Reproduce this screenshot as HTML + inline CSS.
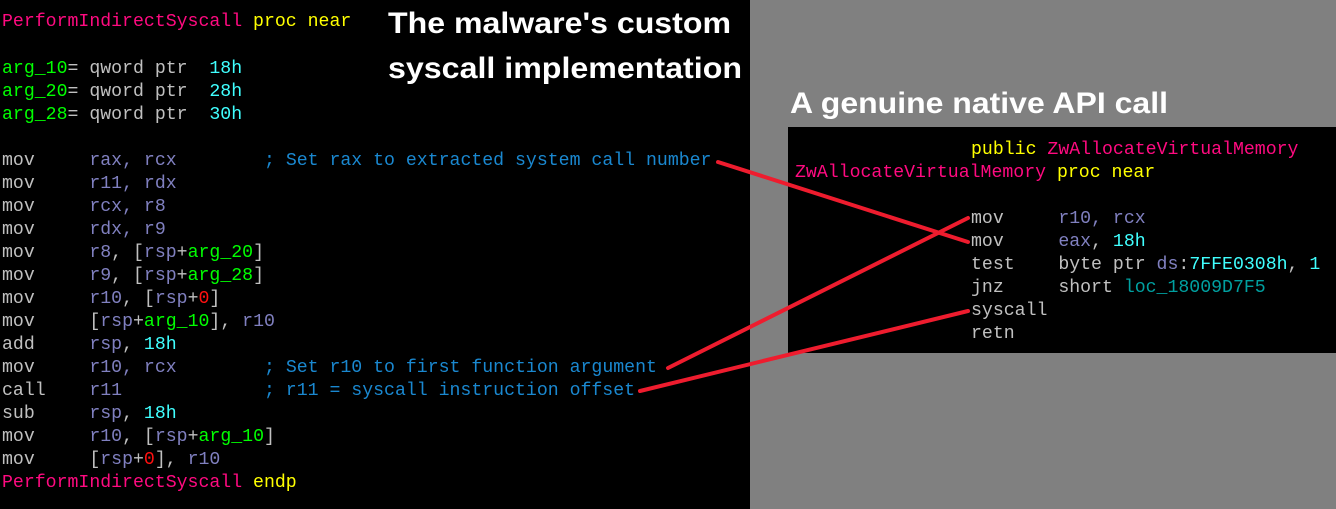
<!DOCTYPE html>
<html><head><meta charset="utf-8"><style>
html,body{margin:0;padding:0;}
body{width:1336px;height:509px;position:relative;overflow:hidden;background:#808080;}
#left{position:absolute;left:0;top:0;width:750px;height:509px;background:#000;}
#box{position:absolute;left:788px;top:127px;width:548px;height:226px;background:#000;}
.l{position:absolute;white-space:pre;font-family:"Liberation Mono",monospace;font-size:18.2px;line-height:23px;height:23px;color:#c0c0c0;margin-top:1px;}
.p{color:#ff0a80}.y{color:#ffff00}.g{color:#00ff00}.c{color:#40ffff}.r{color:#8080c0}.cm{color:#1a88d0}.z{color:#ff1010}.t{color:#00a0a0}
svg{position:absolute;left:0;top:0;}
</style></head><body>
<div id="left"></div>
<div id="box"></div>
<div class="l" style="left:2px;top:10px"><span class="p">PerformIndirectSyscall</span> <span class="y">proc near</span></div>
<div class="l" style="left:2px;top:57px"><span class="g">arg_10</span>= qword ptr  <span class="c">18h</span></div>
<div class="l" style="left:2px;top:80px"><span class="g">arg_20</span>= qword ptr  <span class="c">28h</span></div>
<div class="l" style="left:2px;top:103px"><span class="g">arg_28</span>= qword ptr  <span class="c">30h</span></div>
<div class="l" style="left:2px;top:149px">mov     <span class="r">rax, rcx</span>        <span class="cm">; Set rax to extracted system call number</span></div>
<div class="l" style="left:2px;top:172px">mov     <span class="r">r11, rdx</span></div>
<div class="l" style="left:2px;top:195px">mov     <span class="r">rcx, r8</span></div>
<div class="l" style="left:2px;top:218px">mov     <span class="r">rdx, r9</span></div>
<div class="l" style="left:2px;top:241px">mov     <span class="r">r8</span>, [<span class="r">rsp</span>+<span class="g">arg_20</span>]</div>
<div class="l" style="left:2px;top:264px">mov     <span class="r">r9</span>, [<span class="r">rsp</span>+<span class="g">arg_28</span>]</div>
<div class="l" style="left:2px;top:287px">mov     <span class="r">r10</span>, [<span class="r">rsp</span>+<span class="z">0</span>]</div>
<div class="l" style="left:2px;top:310px">mov     [<span class="r">rsp</span>+<span class="g">arg_10</span>], <span class="r">r10</span></div>
<div class="l" style="left:2px;top:333px">add     <span class="r">rsp</span>, <span class="c">18h</span></div>
<div class="l" style="left:2px;top:356px">mov     <span class="r">r10, rcx</span>        <span class="cm">; Set r10 to first function argument</span></div>
<div class="l" style="left:2px;top:379px">call    <span class="r">r11</span>             <span class="cm">; r11 = syscall instruction offset</span></div>
<div class="l" style="left:2px;top:402px">sub     <span class="r">rsp</span>, <span class="c">18h</span></div>
<div class="l" style="left:2px;top:425px">mov     <span class="r">r10</span>, [<span class="r">rsp</span>+<span class="g">arg_10</span>]</div>
<div class="l" style="left:2px;top:448px">mov     [<span class="r">rsp</span>+<span class="z">0</span>], <span class="r">r10</span></div>
<div class="l" style="left:2px;top:471px"><span class="p">PerformIndirectSyscall</span> <span class="y">endp</span></div>

<div class="l" style="left:971px;top:138px"><span class="y">public</span> <span class="p">ZwAllocateVirtualMemory</span></div>
<div class="l" style="left:795px;top:161px"><span class="p">ZwAllocateVirtualMemory</span> <span class="y">proc near</span></div>
<div class="l" style="left:971px;top:207px">mov     <span class="r">r10, rcx</span></div>
<div class="l" style="left:971px;top:230px">mov     <span class="r">eax</span>, <span class="c">18h</span></div>
<div class="l" style="left:971px;top:253px">test    byte ptr <span class="r">ds</span>:<span class="c">7FFE0308h</span>, <span class="c">1</span></div>
<div class="l" style="left:971px;top:276px">jnz     short <span class="t">loc_18009D7F5</span></div>
<div class="l" style="left:971px;top:299px">syscall</div>
<div class="l" style="left:971px;top:322px">retn</div>

<svg width="1336" height="509" xmlns="http://www.w3.org/2000/svg">
<g font-family="Liberation Sans, sans-serif" font-weight="bold" font-size="30" fill="#fff">
<text x="388" y="33" textLength="343" lengthAdjust="spacingAndGlyphs">The malware's custom</text>
<text x="388" y="78" textLength="354" lengthAdjust="spacingAndGlyphs">syscall implementation</text>
<text x="790" y="113" textLength="378" lengthAdjust="spacingAndGlyphs">A genuine native API call</text>
</g>
<g stroke="#ee1c2e" stroke-width="4" stroke-linecap="round">
<line x1="718" y1="162" x2="968" y2="242"/>
<line x1="668" y1="368" x2="968" y2="218"/>
<line x1="640" y1="391" x2="968" y2="311"/>
</g>
</svg>
</body></html>
